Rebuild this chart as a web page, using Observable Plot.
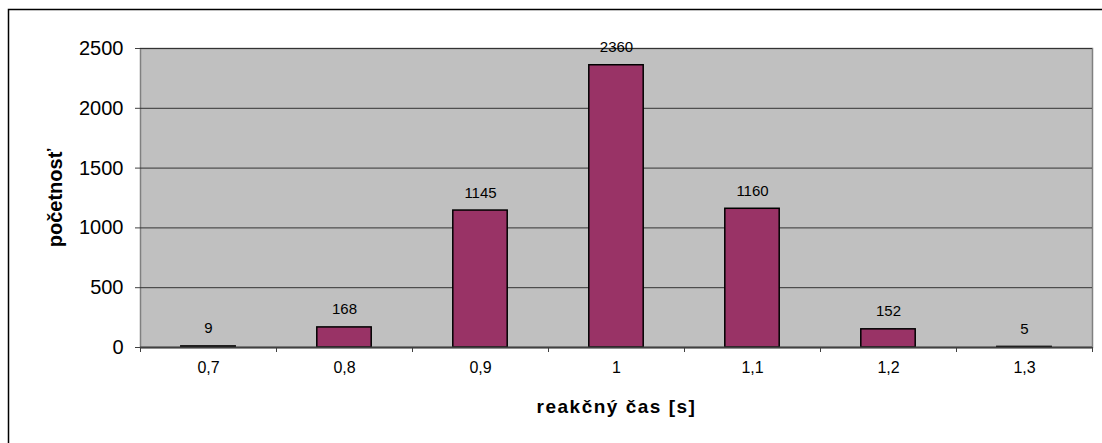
<!DOCTYPE html>
<html>
<head>
<meta charset="utf-8">
<script src="https://cdn.jsdelivr.net/npm/d3@7"></script>
<script src="https://cdn.jsdelivr.net/npm/@observablehq/plot@0.6"></script>
<style>
  html, body { margin: 0; padding: 0; background: #fff; overflow: hidden; }
  #chart svg { display: block; }
</style>
</head>
<body>
<div id="chart"></div>
<script>
// Reaction-time histogram: bin centres (s) and counts
const categories = ["0,7", "0,8", "0,9", "1", "1,1", "1,2", "1,3"];
const counts = [9, 168, 1145, 2360, 1160, 152, 5];
const yTicks = [0, 500, 1000, 1500, 2000, 2500];
const xTitle = "reakčný čas [s]";
const yTitle = "početnosť";

const data = categories.map((c, i) => ({ cat: c, n: counts[i] }));

const W = 1102, H = 443;
const mL = 140, mR = 10, mT = 48, mB = 96;
const step = (W - mL - mR) / categories.length;
const barW = step / 2.5;
const inset = (step - barW) / 2;
const font = "Liberation Sans, Arial, Helvetica, sans-serif";

const chart = Plot.plot({
  width: W,
  height: H,
  marginLeft: mL,
  marginRight: mR,
  marginTop: mT,
  marginBottom: mB,
  style: { fontFamily: font, background: "#fff", color: "#000" },
  x: { domain: categories, padding: 0, label: null },
  y: { domain: [0, 2500], label: null },
  marks: [
    Plot.frame({ fill: "#c0c0c0", stroke: "#808080", strokeWidth: 1.5 }),
    Plot.gridY(yTicks.filter(v => v > 0), { stroke: "#333", strokeOpacity: 1, strokeWidth: 1 }),
    Plot.barY(data, {
      x: "cat", y: "n",
      fill: "#993366", stroke: "#000", strokeWidth: 1.5,
      insetLeft: inset, insetRight: inset
    }),
    Plot.ruleY([0], { stroke: "#404040", strokeWidth: 2 }),
    Plot.text(data, {
      x: "cat", y: "n", text: d => String(d.n),
      lineAnchor: "bottom", dy: -13, fontSize: 15, fill: "#000"
    }),
    // y axis: numbers and short outward ticks
    Plot.axisY({
      ticks: yTicks, tickSize: 5, tickPadding: 12, fontSize: 20,
      tickFormat: d => String(d), label: null, stroke: "#404040"
    }),
    // x axis labels centred in each category
    Plot.axisX({ tickSize: 0, tickPadding: 14, fontSize: 16, label: null }),
    // x tick marks between categories
    Plot.axisX({ ticks: categories, tickSize: 5, tickFormat: () => "", dx: -step / 2, label: null, stroke: "#404040" }),
    Plot.axisX({ ticks: [categories[categories.length - 1]], tickSize: 5, tickFormat: () => "", dx: step / 2, label: null, stroke: "#404040" }),
    // axis titles
    Plot.text([yTitle], {
      frameAnchor: "left", dx: -85, rotate: -90, text: d => d,
      textAnchor: "middle", lineAnchor: "middle",
      fontSize: 20, fontWeight: "bold", fill: "#000"
    }),
    Plot.text([xTitle], {
      frameAnchor: "bottom", dy: 59, text: d => d,
      textAnchor: "middle", lineAnchor: "middle",
      fontSize: 19, fontWeight: "bold", fill: "#000"
    })
  ]
});

// letter spacing for the horizontal axis title
d3.select(chart).selectAll("text")
  .filter(function () { return this.textContent === xTitle; })
  .style("letter-spacing", "1.5px");

// outer chart-area border
d3.select(chart).insert("rect", ":first-child")
  .attr("x", 8.5).attr("y", 9.5)
  .attr("width", 1300).attr("height", 600)
  .attr("fill", "none").attr("stroke", "#000").attr("stroke-width", 1.5);

document.getElementById("chart").appendChild(chart);
</script>
</body>
</html>
